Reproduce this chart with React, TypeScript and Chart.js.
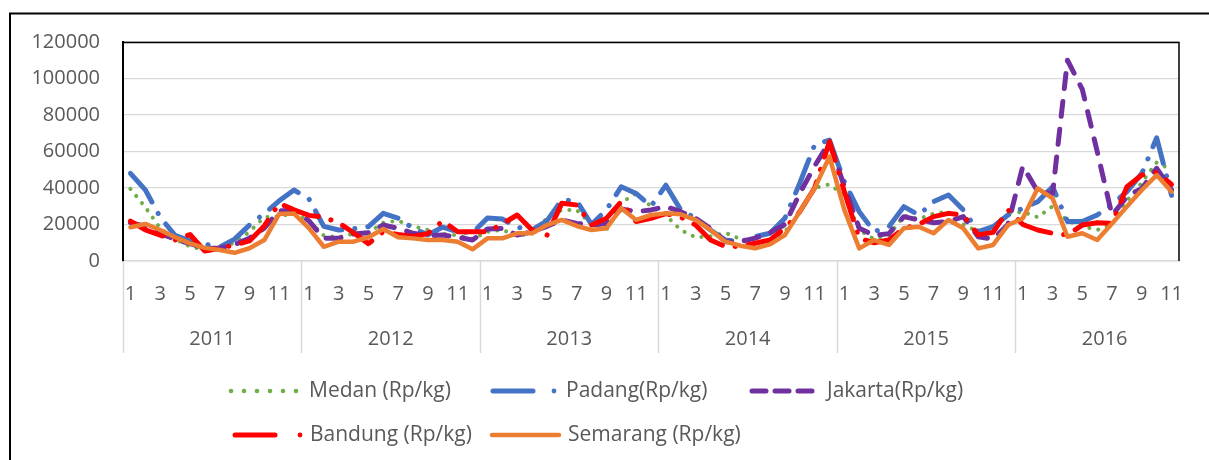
import React, { useEffect, useRef } from "react";
import { Chart, registerables } from "chart.js";

Chart.register(...registerables);

const years = ["2011", "2012", "2013", "2014", "2015", "2016"];
const monthsInYear = [12, 12, 12, 12, 12, 11];
const monthLabels: string[] = [];
monthsInYear.forEach((n) => {
  for (let m = 1; m <= n; m++) monthLabels.push(String(m));
});

const yTicks = [0, 20000, 40000, 60000, 80000, 100000, 120000];

const medan = [
  39500, 29500, 18000, 12000, 8000, 6000, 7000, 10000, 16000, 24000, 24500, 26000,
  22000, 14000, 13000, 15000, 15500, 21000, 22000, 19000, 17000, 15000, 14000, 12000,
  16000, 17000, 14000, 15000, 23500, 28000, 28000, 20000, 17000, 32000, 37000, 30000,
  25000, 17000, 13000, 13500, 15500, 12000, 10000, 11000, 16000, 27000, 40000, 42000,
  36000, 17000, 12000, 14000, 25000, 23000, 26000, 27000, 20000, 16000, 18000, 26000,
  27000, 24000, 30000, 22000, 19000, 17000, 20000, 33000, 43000, 54000, 50000,
];
const padang = [
  48000, 39000, 24000, 14000, 11000, 9300, 7500, 12000, 19700, 26000, 33000, 38900,
  34000, 19000, 17000, 17700, 18800, 26100, 23400, 17900, 14300, 18600, 16000, 15500,
  23500, 23000, 18500, 17000, 22000, 33400, 33000, 20000, 28000, 40700, 37000, 30000,
  41500, 28000, 23400, 17000, 11500, 10600, 13300, 15200, 23400, 42600, 63600, 66300,
  43500, 27000, 16100, 18800, 29800, 25200, 32500, 36200, 28000, 16100, 18800, 25200,
  28900, 32500, 40700, 21600, 21600, 25200, 31000, 38000, 48000, 67500, 36000,
];
const jakarta = [
  21000, 19000, 15000, 12000, 9500, 7000, 7000, 9000, 12500, 18000, 27500, 27500,
  22000, 12400, 12500, 14800, 15500, 19700, 17900, 15200, 13700, 14200, 13000, 11500,
  17500, 17900, 14200, 16000, 19000, 22500, 20600, 19700, 20600, 28500, 27000, 28000,
  29800, 27000, 23400, 17900, 10600, 10600, 12500, 15500, 20000, 37000, 52000, 65400,
  40700, 18000, 14000, 15000, 24300, 22500, 21000, 21600, 24300, 13300, 12000, 20000,
  52000, 38000, 37000, 110000, 94000, 60000, 25000, 35300, 39800, 50800, 38900,
];
const bandung = [
  21900, 17000, 14200, 11500, 14500, 5500, 6900, 8800, 11000, 19200, 31600, 28000,
  25000, 24000, 21000, 15500, 9500, 16000, 14500, 13500, 15000, 22000, 16000, 16000,
  16000, 20300, 25200, 17000, 14000, 31600, 30700, 19700, 23400, 32500, 21600, 23400,
  26000, 24000, 19700, 11500, 7900, 8000, 9700, 11500, 17900, 27000, 40000, 65500,
  38000, 12400, 10000, 11500, 17900, 20100, 24300, 26100, 25200, 14300, 15700, 28000,
  20000, 17000, 15200, 14300, 19700, 21000, 20600, 40700, 47100, 48500, 42000,
];
const semarang = [
  18500, 20300, 17000, 13000, 9700, 7200, 6000, 4500, 7000, 11500, 25800, 26000,
  18000, 7800, 10600, 10600, 13000, 17500, 13000, 12400, 11500, 11500, 10600, 6400,
  12400, 12400, 15200, 15200, 19700, 22500, 19200, 17000, 17900, 28900, 22500, 25200,
  26100, 25600, 22500, 17000, 10600, 8400, 7000, 9100, 14200, 27000, 39800, 57200,
  28000, 6900, 11500, 8800, 17900, 18800, 15200, 22500, 17900, 6900, 8800, 19700,
  23400, 39800, 34300, 13300, 15200, 11500, 20600, 29800, 38900, 47100, 38000,
];

const seriesNames = [
  "Medan (Rp/kg)",
  "Padang(Rp/kg)",
  "Jakarta(Rp/kg)",
  "Bandung (Rp/kg)",
  "Semarang (Rp/kg)",
];

const GREEN = "#70AD47";
const BLUE = "#4472C4";
const PURPLE = "#7030A0";
const RED = "#FF0000";
const ORANGE = "#ED7D31";
const TEXT = "#595959";
const GRID = "#D9D9D9";
const FONT = "'Open Sans', sans-serif";

const decorPlugin = {
  id: "decor",
  afterDraw(chart: any) {
    const ctx = chart.ctx as CanvasRenderingContext2D;
    const area = chart.chartArea;
    const xs = chart.scales.x;
    ctx.save();

    // outer border
    ctx.strokeStyle = "#000";
    ctx.lineWidth = 2;
    ctx.strokeRect(10, 13.5, 1400, 700);

    // plot area border: top, right black
    ctx.lineWidth = 1.5;
    ctx.beginPath();
    ctx.moveTo(area.left, area.top + 0.5);
    ctx.lineTo(area.right, area.top + 0.5);
    ctx.lineTo(area.right, area.bottom);
    ctx.stroke();

    // year separators and year labels
    const step = xs.getPixelForValue(1) - xs.getPixelForValue(0);
    let idx = 0;
    ctx.strokeStyle = GRID;
    ctx.lineWidth = 1.5;
    ctx.fillStyle = TEXT;
    ctx.font = `20px ${FONT}`;
    ctx.textAlign = "center";
    ctx.textBaseline = "middle";
    years.forEach((y, k) => {
      const start = xs.getPixelForValue(idx) - step / 2;
      ctx.beginPath();
      ctx.moveTo(Math.round(start) + 0.5, area.bottom);
      ctx.lineTo(Math.round(start) + 0.5, area.bottom + 92);
      ctx.stroke();
      const yearEnd = start + 12 * step;
      ctx.fillText(y, (start + yearEnd) / 2, 339);
      idx += monthsInYear[k];
    });

    // legend
    ctx.textAlign = "left";
    ctx.lineCap = "round";
    ctx.font = `21px ${FONT}`;
    const r1 = 391;
    const r2 = 435;
    // Medan
    ctx.fillStyle = GREEN;
    for (let k = 0; k < 6; k++) {
      ctx.beginPath();
      ctx.arc(231 + 13 * k, r1, 2.3, 0, Math.PI * 2);
      ctx.fill();
    }
    // Padang
    ctx.strokeStyle = BLUE;
    ctx.lineWidth = 5;
    ctx.beginPath();
    ctx.moveTo(493, r1);
    ctx.lineTo(533, r1);
    ctx.stroke();
    ctx.fillStyle = BLUE;
    ctx.beginPath();
    ctx.arc(554, r1, 2.4, 0, Math.PI * 2);
    ctx.fill();
    // Jakarta
    ctx.strokeStyle = PURPLE;
    [752, 775, 798].forEach((x0) => {
      ctx.beginPath();
      ctx.moveTo(x0, r1);
      ctx.lineTo(x0 + 14, r1);
      ctx.stroke();
    });
    // Bandung
    ctx.strokeStyle = RED;
    ctx.beginPath();
    ctx.moveTo(235, r2);
    ctx.lineTo(275, r2);
    ctx.stroke();
    ctx.fillStyle = RED;
    ctx.beginPath();
    ctx.arc(300, r2, 2.4, 0, Math.PI * 2);
    ctx.fill();
    // Semarang
    ctx.strokeStyle = ORANGE;
    ctx.lineWidth = 4.5;
    ctx.beginPath();
    ctx.moveTo(492, r2);
    ctx.lineTo(559, r2);
    ctx.stroke();

    ctx.fillStyle = TEXT;
    ctx.fillText(seriesNames[0], 309, r1);
    ctx.fillText(seriesNames[1], 566, r1);
    ctx.fillText(seriesNames[2], 827, r1);
    ctx.fillText(seriesNames[3], 310, r2);
    ctx.fillText(seriesNames[4], 568, r2);

    ctx.restore();
  },
};

export default function App() {
  const canvasRef = useRef<HTMLCanvasElement | null>(null);

  useEffect(() => {
    if (!canvasRef.current) return;
    const base = {
      fill: false,
      pointRadius: 0,
      pointHoverRadius: 0,
      tension: 0,
      borderJoinStyle: "round" as const,
      borderCapStyle: "round" as const,
    };
    const chart = new Chart(canvasRef.current, {
      type: "line",
      data: {
        labels: monthLabels,
        datasets: [
          { ...base, label: seriesNames[0], data: medan, borderColor: GREEN, borderWidth: 4, borderDash: [0.1, 9], order: 4 },
          { ...base, label: seriesNames[1], data: padang, borderColor: BLUE, borderWidth: 5, borderDash: [36, 13, 0.1, 13], order: 3 },
          { ...base, label: seriesNames[2], data: jakarta, borderColor: PURPLE, borderWidth: 5, borderDash: [15, 13], order: 2 },
          { ...base, label: seriesNames[3], data: bandung, borderColor: RED, borderWidth: 5, borderDash: [36, 13, 0.1, 13], order: 1 },
          { ...base, label: seriesNames[4], data: semarang, borderColor: ORANGE, borderWidth: 4.5, order: 0 },
        ],
      },
      options: {
        responsive: false,
        animation: false,
        events: [],
        layout: { padding: { top: 42, right: 30, left: 0, bottom: 0 } },
        plugins: {
          legend: { display: false },
          tooltip: { enabled: false },
          title: { display: false },
        },
        scales: {
          x: {
            type: "category",
            offset: true,
            grid: { display: false, drawTicks: false },
            border: { display: true, color: GRID, width: 1.5 },
            ticks: {
              autoSkip: false,
              maxRotation: 0,
              minRotation: 0,
              padding: 21,
              color: TEXT,
              font: { family: FONT, size: 20 },
              callback: (_v: any, i: number) =>
                Number(monthLabels[i]) % 2 === 1 ? monthLabels[i] : "",
            },
            afterFit: (s: any) => {
              s.height = 199;
            },
          },
          y: {
            min: 0,
            max: 120000,
            grid: { color: GRID, lineWidth: 1.3, drawTicks: false },
            border: { display: true, color: "#000", width: 2 },
            afterBuildTicks: (s: any) => {
              s.ticks = yTicks.map((v) => ({ value: v }));
            },
            ticks: {
              padding: 23,
              color: TEXT,
              font: { family: FONT, size: 20 },
              callback: (v: any) => String(v),
            },
            afterFit: (s: any) => {
              s.width = 123;
            },
          },
        },
      },
      plugins: [decorPlugin],
    });
    return () => chart.destroy();
  }, []);

  return (
    <div
      style={{
        position: "fixed",
        left: 0,
        top: 0,
        width: 1209,
        height: 460,
        background: "#fff",
        overflow: "hidden",
      }}
    >
      <canvas ref={canvasRef} width={1209} height={460} style={{ display: "block" }} />
    </div>
  );
}
